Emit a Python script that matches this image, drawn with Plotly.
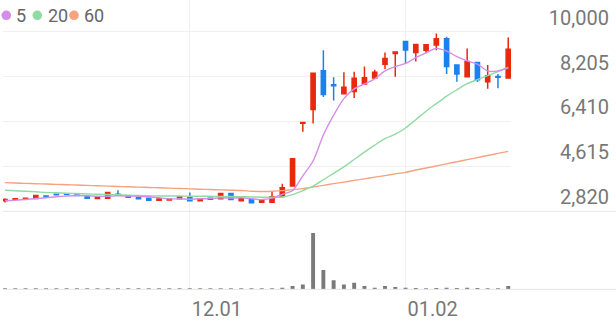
import plotly.graph_objects as go

# ---------------- data ----------------
dates = ["11.05", "11.06", "11.07", "11.10", "11.11", "11.12", "11.13", "11.14", "11.17", "11.18",
         "11.19", "11.20", "11.21", "11.24", "11.25", "11.26", "11.27", "11.28", "12.01", "12.02",
         "12.03", "12.04", "12.05", "12.08", "12.09", "12.10", "12.11", "12.12", "12.15", "12.16",
         "12.17", "12.18", "12.19", "12.22", "12.23", "12.24", "12.26", "12.29", "12.30", "01.02",
         "01.05", "01.06", "01.07", "01.08", "01.09", "01.12", "01.13", "01.14", "01.15", "01.16"]

open_ = [3240, 3300, 3320, 3333, 3430, 3505, 3515, 3475, 3400, 3333,
         3345, 3505, 3425, 3400, 3345, 3265, 3270, 3320, 3372, 3245,
         3300, 3320, 3530, 3240, 3293, 3185, 3185, 3412, 3834, 6340,
         6883, 8434, 7880, 7515, 7605, 7909, 8146, 8698, 9120, 9605,
         9160, 9250, 9460, 9712, 8670, 8197, 8765, 8000, 8210, 8146]
high = [3345, 3335, 3360, 3470, 3440, 3535, 3520, 3480, 3410, 3390,
        3575, 3660, 3430, 3410, 3350, 3325, 3320, 3405, 3570, 3325,
        3350, 3535, 3535, 3325, 3300, 3245, 3610, 3925, 4930, 6372,
        8335, 9250, 8173, 8371, 8394, 8607, 8473, 9160, 9190, 9610,
        9490, 9480, 9921, 9791, 8680, 9329, 8770, 8670, 8304, 9763]
low = [3175, 3290, 3310, 3320, 3390, 3475, 3490, 3450, 3340, 3325,
       3340, 3475, 3380, 3315, 3240, 3260, 3265, 3315, 3240, 3240,
       3295, 3315, 3290, 3235, 3160, 3180, 3180, 3372, 3830, 6004,
       6331, 7384, 7250, 7500, 7345, 7900, 8140, 8501, 8197, 8740,
       8805, 9132, 9250, 8304, 8000, 8190, 7988, 7712, 7740, 8140]
close = [3290, 3320, 3345, 3451, 3400, 3480, 3500, 3455, 3345, 3385,
         3570, 3480, 3385, 3320, 3265, 3320, 3315, 3400, 3245, 3320,
         3345, 3530, 3293, 3320, 3165, 3240, 3400, 3767, 4923, 6370,
         8331, 7487, 7840, 7780, 8134, 8158, 8371, 8923, 9183, 9262,
         9487, 9475, 9712, 8607, 8304, 8805, 8079, 8237, 8180, 9290]

ma5 = [3250, 3265, 3290, 3330, 3360, 3400, 3430, 3450, 3440, 3420,
       3420, 3440, 3430, 3420, 3400, 3360, 3320, 3320, 3300, 3320,
       3330, 3360, 3350, 3360, 3320, 3290, 3350, 3500, 3650, 4240,
       4830, 5870, 6660, 7320, 7710, 7910, 8110, 8430, 8600, 8730,
       8960, 9150, 9330, 9220, 9000, 8830, 8700, 8430, 8430, 8570]
ma20 = [3660, 3640, 3620, 3600, 3575, 3560, 3545, 3530, 3515, 3500,
        3490, 3480, 3465, 3450, 3440, 3435, 3430, 3430, 3425, 3420,
        3420, 3415, 3410, 3405, 3395, 3385, 3380, 3390, 3490, 3650,
        3826, 4082, 4339, 4595, 4891, 5187, 5463, 5720, 5900, 6150,
        6480, 6820, 7120, 7420, 7677, 7917, 8082, 8245, 8399, 8556]
ma60 = [3965, 3951, 3938, 3924, 3910, 3896, 3883, 3869, 3855, 3842,
        3828, 3814, 3801, 3787, 3773, 3760, 3746, 3732, 3718, 3705,
        3691, 3677, 3664, 3650, 3625, 3612, 3625, 3648, 3688, 3727,
        3794, 3858, 3925, 3988, 4055, 4118, 4185, 4248, 4315, 4378,
        4469, 4552, 4635, 4718, 4801, 4884, 4967, 5050, 5133, 5216]

volume = [1, 1, 1, 1, 1, 1, 1, 1, 1, 1,
          1, 4, 1, 1, 1, 1, 1, 1, 1, 1,
          1, 1, 1, 1, 1, 3, 7, 17, 33, 50,
          570, 197, 93, 50, 67, 33, 17, 33, 23, 17,
          13, 10, 13, 17, 13, 17, 13, 10, 7, 33]

price_ticks = [2820, 4615, 6410, 8205, 10000]
date_ticks = ["12.01", "01.02"]
ma_names = ["5", "20", "60"]

# ---------------- style ----------------
W, H = 616, 321
RED, BLUE = "#e8290c", "#1a82f0"
C5, C20, C60 = "#d58ee8", "#90dba2", "#f6a27e"
GRID = "#f0f0f0"
TXT = "#777777"
FONT = "Roboto"


def px_x(p):
    return p / W


def px_y(p):
    return 1 - p / H


fig = go.Figure()

for vals, col in [(ma60, C60), (ma20, C20), (ma5, C5)]:
    fig.add_trace(go.Scatter(x=dates, y=vals, mode="lines",
                             line=dict(color=col, width=1.4, shape="spline", smoothing=0.8),
                             xaxis="x", yaxis="y", hoverinfo="skip", showlegend=False))

fig.add_trace(go.Candlestick(
    x=dates, open=open_, high=high, low=low, close=close,
    increasing=dict(line=dict(color=RED, width=1.5), fillcolor=RED),
    decreasing=dict(line=dict(color=BLUE, width=1.5), fillcolor=BLUE),
    xaxis="x", yaxis="y", showlegend=False))

fig.add_trace(go.Bar(x=dates, y=volume, marker=dict(color="#7a7a7a", line=dict(width=0)),
                     xaxis="x2", yaxis="y2", showlegend=False))

# invisible trace so the label axis is drawn
fig.add_trace(go.Scatter(x=[], y=[], xaxis="x", yaxis="y3", showlegend=False, hoverinfo="skip"))

x0, x1 = px_x(3), px_x(511)
xrange = [-0.195, 49.27]

fig.update_layout(
    width=W, height=H,
    margin=dict(l=0, r=0, t=0, b=0),
    paper_bgcolor="white", plot_bgcolor="white",
    font=dict(family=FONT, color=TXT),
    boxgap=0.42,
    bargap=0.62,
    xaxis=dict(domain=[x0, x1], anchor="y", type="category", range=xrange,
               tickvals=date_ticks, showticklabels=False, showgrid=True, gridcolor=GRID,
               gridwidth=1, zeroline=False, showline=False, ticks="",
               rangeslider=dict(visible=False), fixedrange=True),
    xaxis2=dict(domain=[x0, x1], anchor="y2", type="category", range=xrange, matches="x",
                tickvals=date_ticks, ticktext=date_ticks, showticklabels=True,
                tickfont=dict(size=20, color=TXT, family=FONT), ticklabelshift=27,
                ticklabelstandoff=6,
                showgrid=True, gridcolor=GRID, gridwidth=1, zeroline=False, showline=False,
                ticks=""),
    yaxis=dict(domain=[px_y(214), 1], anchor="x", range=[2820, 11262],
               tickvals=price_ticks, showticklabels=False, showgrid=True, gridcolor=GRID,
               gridwidth=1, zeroline=False, showline=False, ticks=""),
    yaxis2=dict(domain=[px_y(293), px_y(214)], anchor="x2", range=[0, 790],
                showticklabels=False, showgrid=False, zeroline=False, showline=False, ticks=""),
    yaxis3=dict(overlaying="y", anchor="free", position=px_x(612), side="right",
                range=[2820, 11262], tickvals=price_ticks,
                ticktext=[f"{v:,}" for v in price_ticks],
                ticklabelposition="inside", ticklabelshift=-14,
                tickfont=dict(size=20, color=TXT, family=FONT),
                showgrid=False, zeroline=False, showline=False, ticks=""),
    shapes=[
        dict(type="line", xref="paper", yref="paper", x0=px_x(3), x1=1,
             y0=px_y(214), y1=px_y(214), line=dict(color="#e6e6e6", width=1)),
        dict(type="line", xref="paper", yref="paper", x0=px_x(3), x1=1,
             y0=px_y(293), y1=px_y(293), line=dict(color="#e6e6e6", width=1)),
    ],
)

# legend (dots + labels)
dot_cx = [6.3, 37.3, 74]
txt_x = [15, 46.5, 83]
for cx, tx, col, name in zip(dot_cx, txt_x, [C5, C20, C60], ma_names):
    fig.add_shape(type="circle", xref="paper", yref="paper",
                  x0=px_x(cx - 4.8), x1=px_x(cx + 4.8), y0=px_y(15.5 + 4.8), y1=px_y(15.5 - 4.8),
                  fillcolor=col, line=dict(width=0))
    fig.add_annotation(xref="paper", yref="paper", x=px_x(tx), y=px_y(15.5), text=name,
                       showarrow=False, xanchor="left", yanchor="middle",
                       font=dict(size=18, color="#666666", family=FONT), borderpad=0)

fig.write_html("out.html")
